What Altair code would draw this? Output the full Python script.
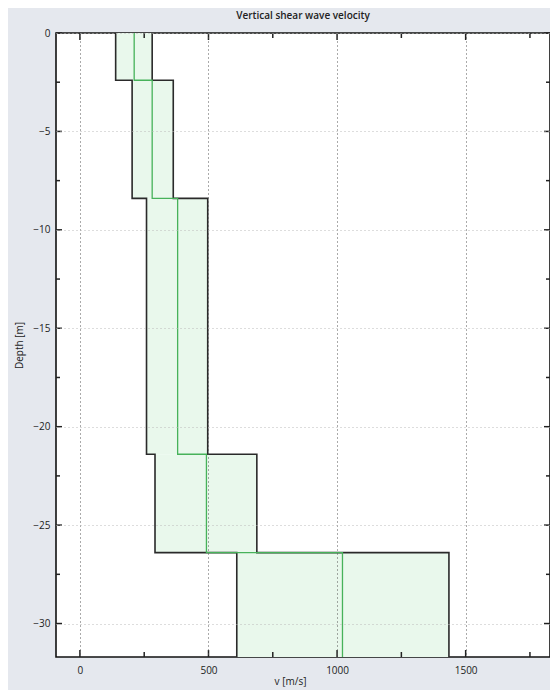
import altair as alt
import pandas as pd

# ---- data ----
depth_top = [0.0, -2.4, -8.4, -21.4, -26.4]
depth_bot = [-2.4, -8.4, -21.4, -26.4, -31.7]
v_min = [139, 203, 259, 292, 610]
v_mean = [211, 281, 380, 492, 1021]
v_max = [281, 363, 497, 688, 1435]

x_major = [0, 500, 1000, 1500]
x_minor = [250, 750, 1250, 1750]
y_major = [0, -5, -10, -15, -20, -25, -30]
y_minor = [-2.5, -7.5, -12.5, -17.5, -22.5, -27.5]

X_DOMAIN = [-93, 1828]
Y_DOMAIN = [-31.7, 0]

W, H = 494, 624
FONT = "Open Sans"

# ---- tables ----
rects = pd.DataFrame({"v_min": v_min, "v_max": v_max, "d_top": depth_top, "d_bot": depth_bot})


def step_path(values, name):
    rows = []
    k = 0
    for v, t, b in zip(values, depth_top, depth_bot):
        rows.append({"v": v, "d": t, "order": k, "series": name}); k += 1
        rows.append({"v": v, "d": b, "order": k, "series": name}); k += 1
    return rows


black = pd.DataFrame(step_path(v_min, "min") + step_path(v_max, "max"))
green = pd.DataFrame(step_path(v_mean, "mean"))
xt_major = pd.DataFrame({"v": x_major})
xt_minor = pd.DataFrame({"v": x_minor})
yt_major = pd.DataFrame({"d": y_major})
yt_minor = pd.DataFrame({"d": y_minor})

xs = alt.Scale(domain=X_DOMAIN, nice=False, zero=False)
ys = alt.Scale(domain=Y_DOMAIN, nice=False, zero=False)

XT = "v [m/s]"
YT = "Depth [m]"

x_axis = alt.Axis(values=x_major, ticks=False, domain=False, grid=True,
                  gridDash=[1, 3], gridColor="#555", gridWidth=1, zindex=1,
                  labelFontSize=10, labelFont=FONT, labelColor="#222", labelPadding=8,
                  titleFontSize=10, titleFont=FONT, titleFontWeight="normal",
                  titleColor="#222", titlePadding=1, titleX=234, format="d")
y_axis = alt.Axis(values=y_major, ticks=False, domain=False, grid=True,
                  gridDash=[1, 3], gridColor="#bbb", gridWidth=1, zindex=1,
                  labelFontSize=10, labelFont=FONT, labelColor="#222", labelPadding=6,
                  titleFontSize=10, titleFont=FONT, titleFontWeight="normal",
                  titleColor="#222", titlePadding=8, format="d")

fill = alt.Chart(rects).mark_rect(color="#e9f8ec").encode(
    x=alt.X("v_min:Q", scale=xs, axis=x_axis, title=XT),
    x2="v_max:Q",
    y=alt.Y("d_top:Q", scale=ys, axis=y_axis, title=YT),
    y2="d_bot:Q",
)

outline = alt.Chart(black).mark_line(color="#2a2a2a", strokeWidth=1.6, clip=True).encode(
    x=alt.X("v:Q", scale=xs, title=XT),
    y=alt.Y("d:Q", scale=ys, title=YT),
    detail="series:N",
    order="order:Q",
)

mean = alt.Chart(green).mark_line(color="#47b25a", strokeWidth=1.3, clip=True).encode(
    x=alt.X("v:Q", scale=xs, title=XT),
    y=alt.Y("d:Q", scale=ys, title=YT),
    order="order:Q",
)


def xticks(df, length):
    base = alt.Chart(df).mark_rule(color="#222", strokeWidth=1.5)
    bottom = base.encode(x=alt.X("v:Q", scale=xs, title=XT), y=alt.value(H), y2=alt.value(H - length))
    top = base.encode(x=alt.X("v:Q", scale=xs, title=XT), y=alt.value(0), y2=alt.value(length))
    return [bottom, top]


def yticks(df, length):
    base = alt.Chart(df).mark_rule(color="#222", strokeWidth=1.5)
    left = base.encode(y=alt.Y("d:Q", scale=ys, title=YT), x=alt.value(0), x2=alt.value(length))
    right = base.encode(y=alt.Y("d:Q", scale=ys, title=YT), x=alt.value(W), x2=alt.value(W - length))
    return [left, right]


layers = [fill, outline, mean] + xticks(xt_major, 7) + xticks(xt_minor, 5) + yticks(yt_major, 6) + yticks(yt_minor, 4)

chart = alt.layer(*layers).properties(
    width=W,
    height=H,
    autosize="none",
    padding={"left": 48, "top": 25, "right": 0, "bottom": 33},
    background="#e5e8ee",
    title=alt.TitleParams("Vertical shear wave velocity", fontSize=10, font=FONT,
                          fontWeight=600, color="#222", anchor="middle", offset=7),
).configure_view(stroke="#111", strokeWidth=1.6, fill="white")

chart.save("out.html", embed_options={"renderer": "svg", "actions": False})
